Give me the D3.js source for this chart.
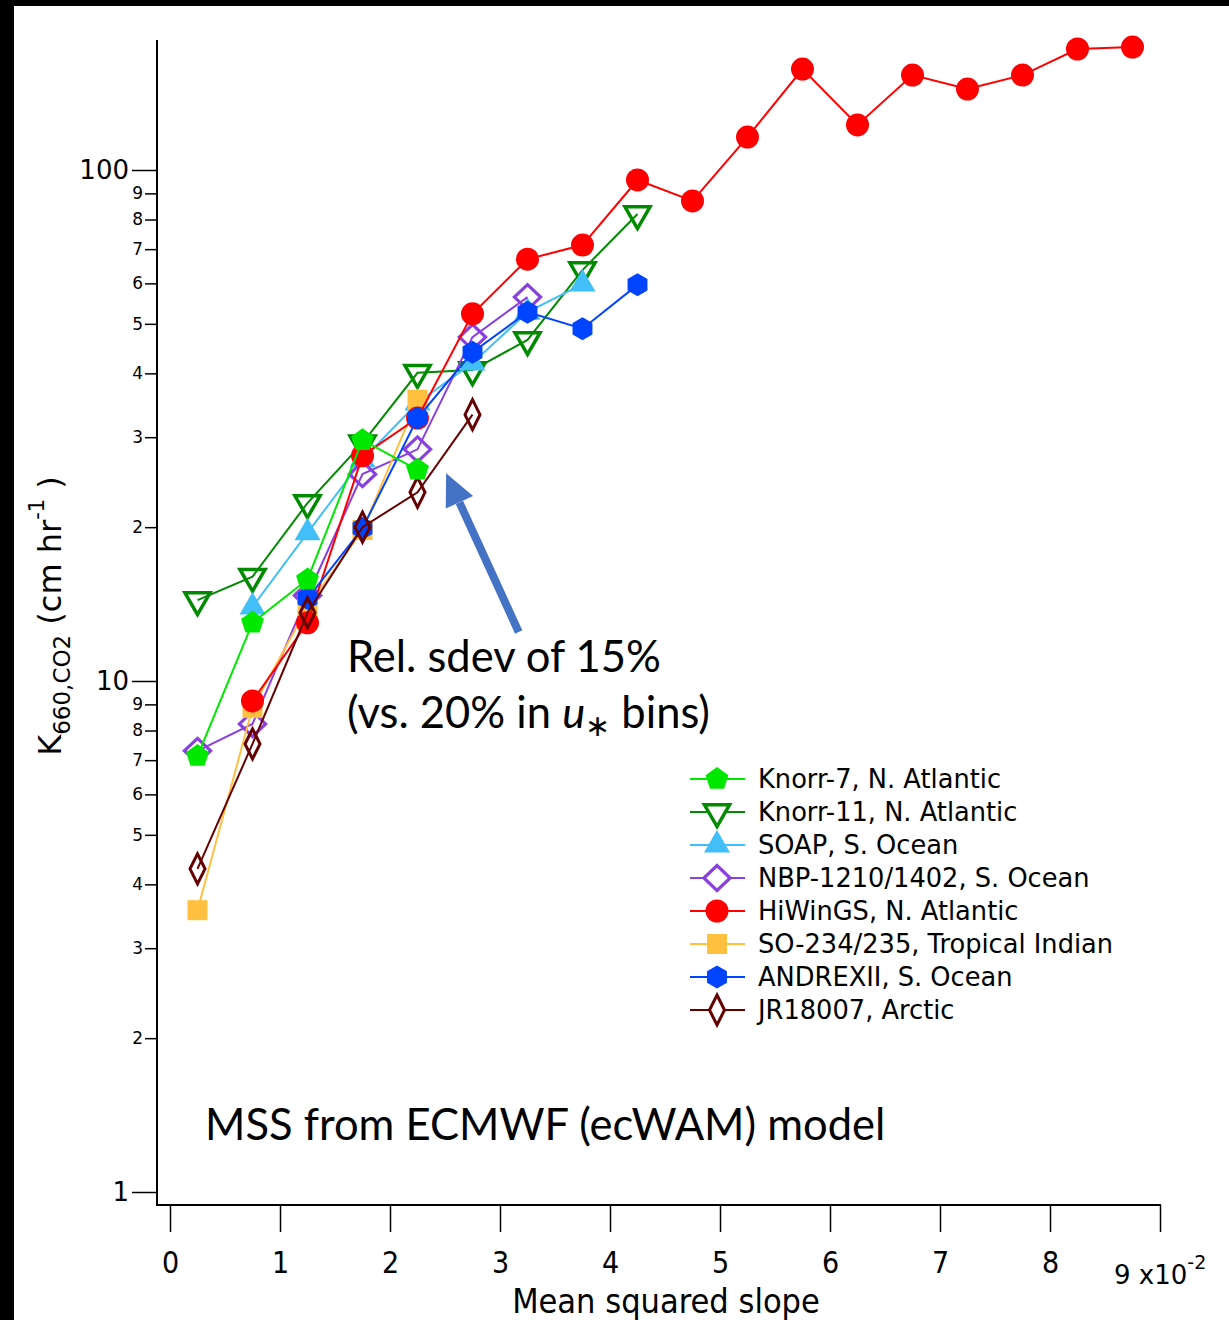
<!DOCTYPE html>
<html>
<head>
    <meta charset="utf-8">
    <title>K660 vs mean squared slope</title>
    <script src="https://cdn.jsdelivr.net/npm/d3@7"></script>
    <style>
        html, body {
            margin: 0;
            padding: 0;
            background-color: #fff;
        }
        svg {
            display: block;
            background-color: #fff;
        }
        .lucida {
            font-family: "DejaVu Sans", Verdana, sans-serif;
        }
        .narrow {
            font-family: "Liberation Sans Narrow", "DejaVu Sans Condensed", "Arial Narrow", sans-serif;
            font-stretch: condensed;
        }
        .calibri {
            font-family: Lato, "Open Sans", sans-serif;
        }
    </style>
</head>
<body>
<svg></svg>
<script>
    // bin centres of mean squared slope (x10^-2)
    var mssBins = [0.25, 0.75, 1.25, 1.75, 2.25, 2.75, 3.25, 3.75, 4.25,
                   4.75, 5.25, 5.75, 6.25, 6.75, 7.25, 7.75, 8.25, 8.75];

    // K660 (cm/hr) per bin, null = no data
    var knorr7   = [7.13, 13.0, 15.8, 29.6, 25.9];
    var knorr11  = [14.4, 16.0, 22.3, 29.2, 40.1, 40.6, 46.5, 63.7, 82.0];
    var soap     = [null, 13.96, 19.5, 27.1, 35.0, 41.9, 52.7, 59.8];
    var nbp      = [7.3, 8.24, 14.7, 25.4, 28.4, 47.1, 56.4];
    var hiwings  = [null, 9.14, 13.0, 27.6, 32.7, 52.3, 66.9, 71.3, 95.6,
                    87.0, 116, 157.6, 122.5, 153.4, 144, 153.4, 172.5, 174];
    var so234    = [3.56, 8.86, 13.96, 19.75, 35.5];
    var andrex   = [null, null, 14.5, 19.9, 32.7, 44.0, 52.7, 48.9, 59.6];
    var jr18007  = [4.29, 7.53, 13.6, 20.0, 23.4, 33.2];

    var seriesNames = ['Knorr-7, N. Atlantic', 'Knorr-11, N. Atlantic', 'SOAP, S. Ocean',
                       'NBP-1210/1402, S. Ocean', 'HiWinGS, N. Atlantic',
                       'SO-234/235, Tropical Indian', 'ANDREXII, S. Ocean', 'JR18007, Arctic'];

    var xTicks = [0, 1, 2, 3, 4, 5, 6, 7, 8];
    var yMajor = [1, 10, 100];

    (function () {
        var w = 1229,
            h = 1320;

        var svg = d3.select('svg')
                .attr('width', w)
                .attr('height', h)
                .attr('viewBox', '0 0 ' + w + ' ' + h);

        // page frame (black strips top / left)
        svg.append('rect').attr('x', 0).attr('y', 0).attr('width', w).attr('height', 6).style('fill', '#000');
        svg.append('rect').attr('x', 0).attr('y', 0).attr('width', 14).attr('height', h).style('fill', '#000');

        var x = d3.scaleLinear().domain([0, 9]).range([170, 1160]),
            y = d3.scaleLog().domain([1, 100]).range([1192, 170]);

        // --- custom marker shapes -----------------------------------
        function polygon(n, rot) {
            return {
                draw: function (ctx, size) {
                    var r = Math.sqrt(size) / 2;
                    for (var i = 0; i < n; i++) {
                        var a = rot + i * 2 * Math.PI / n;
                        var px = r * Math.sin(a), py = -r * Math.cos(a);
                        if (i === 0) ctx.moveTo(px, py); else ctx.lineTo(px, py);
                    }
                    ctx.closePath();
                }
            };
        }
        function rhomb(ratio) {
            return {
                draw: function (ctx, size) {
                    var r = Math.sqrt(size) / 2;
                    ctx.moveTo(0, -r);
                    ctx.lineTo(r * ratio, 0);
                    ctx.lineTo(0, r);
                    ctx.lineTo(-r * ratio, 0);
                    ctx.closePath();
                }
            };
        }
        var pentagon = polygon(5, 0),
            triDown = polygon(3, Math.PI),
            triUp = polygon(3, 0),
            hexagon = polygon(6, 0),
            square = {
                draw: function (ctx, size) {
                    var r = Math.sqrt(size) / 2;
                    ctx.rect(-r, -r, 2 * r, 2 * r);
                }
            },
            circle = {
                draw: function (ctx, size) {
                    var r = Math.sqrt(size) / 2;
                    ctx.moveTo(r, 0);
                    ctx.arc(0, 0, r, 0, 2 * Math.PI);
                }
            };

        // style per series, same order as seriesNames
        var styles = [
            { vals: knorr7,  color: '#00e800', shape: pentagon, d: 24, fill: true },
            { vals: knorr11, color: '#008a00', shape: triDown,  d: 29, fill: false, sw: 3.5 },
            { vals: soap,    color: '#42bff8', shape: triUp,    d: 30, fill: true },
            { vals: nbp,     color: '#8a40e0', shape: rhomb(1.05), d: 25, fill: false, sw: 3.2 },
            { vals: hiwings, color: '#ff0000', shape: circle,   d: 23, fill: true },
            { vals: so234,   color: '#ffc040', shape: square,   d: 20, fill: true },
            { vals: andrex,  color: '#0044ff', shape: hexagon,  d: 23, fill: true },
            { vals: jr18007, color: '#660000', shape: rhomb(0.5), d: 30, fill: false, sw: 3 }
        ];
        var drawOrder = [1, 2, 3, 5, 4, 6, 7, 0];

        var line = d3.line()
                .defined(function (d) { return d != null; })
                .x(function (d, i) { return x(mssBins[i]); })
                .y(function (d) { return y(d); });

        function marker(sel, s) {
            sel.attr('d', d3.symbol().type(s.shape).size(s.d * s.d))
                .style('fill', s.fill ? s.color : 'none')
                .style('stroke', s.fill ? 'none' : s.color)
                .style('stroke-width', s.sw || 0)
                .style('stroke-linejoin', 'miter');
        }

        var plot = svg.append('g');
        drawOrder.forEach(function (k) {
            var s = styles[k];
            var g = plot.append('g');
            g.append('path')
                .datum(s.vals)
                .attr('d', line)
                .style('fill', 'none')
                .style('stroke', s.color)
                .style('stroke-width', 2);
            g.selectAll('path.pt')
                .data(s.vals.map(function (v, i) { return { v: v, i: i }; })
                    .filter(function (d) { return d.v != null; }))
                .enter().append('path')
                .attr('class', 'pt')
                .attr('transform', function (d) {
                    return 'translate(' + x(mssBins[d.i]) + ',' + y(d.v) + ')';
                })
                .call(marker, s);
        });

        // --- axes -----------------------------------------------------
        var xAxis = d3.axisBottom(x)
                .tickValues(xTicks.concat([9]))
                .tickSize(27)
                .tickSizeOuter(0)
                .tickPadding(20)
                .tickFormat(function (d) { return d === 9 ? '' : d; });
        var gx = svg.append('g')
                .attr('transform', 'translate(0,1205)')
                .call(xAxis);
        gx.select('.domain').remove();
        gx.selectAll('line').style('stroke', '#000').style('stroke-width', 1.5);
        gx.selectAll('text')
            .attr('class', 'narrow')
            .style('font-size', '30px')
            .style('fill', '#000');

        var yMinor = [];
        [1, 10].forEach(function (dec) {
            for (var m = 2; m <= 9; m++) yMinor.push(dec * m);
        });

        var gyMajor = svg.append('g')
                .attr('transform', 'translate(157,0)')
                .call(d3.axisLeft(y).tickValues(yMajor).tickSize(25).tickSizeOuter(0)
                    .tickPadding(3).tickFormat(d3.format('d')));
        gyMajor.select('.domain').remove();
        gyMajor.selectAll('line').style('stroke', '#000').style('stroke-width', 1.5);
        gyMajor.selectAll('text').attr('class', 'lucida').style('font-size', '26px').style('fill', '#000');

        var gyMinor = svg.append('g')
                .attr('transform', 'translate(157,0)')
                .call(d3.axisLeft(y).tickValues(yMinor).tickSize(12).tickSizeOuter(0)
                    .tickPadding(2).tickFormat(function (d) {
                        return String(d).charAt(0);
                    }));
        gyMinor.select('.domain').remove();
        gyMinor.selectAll('line').style('stroke', '#000').style('stroke-width', 1.5);
        gyMinor.selectAll('text').attr('class', 'lucida').style('font-size', '17px').style('fill', '#000');

        // axis lines
        svg.append('line')
            .attr('x1', 157).attr('x2', 157).attr('y1', 40).attr('y2', 1206)
            .style('stroke', '#000').style('stroke-width', 2);
        svg.append('line')
            .attr('x1', 156).attr('x2', 1161).attr('y1', 1205).attr('y2', 1205)
            .style('stroke', '#000').style('stroke-width', 2);

        // x axis end label "9 x10^-2"
        var nine = svg.append('text')
                .attr('class', 'lucida')
                .attr('x', 1114).attr('y', 1284)
                .style('font-size', '26px');
        nine.append('tspan').text('9 x10');
        nine.append('tspan').attr('dy', -15).style('font-size', '19px').text('-2');

        // axis titles
        svg.append('text')
            .attr('class', 'narrow')
            .attr('x', 666).attr('y', 1313)
            .attr('text-anchor', 'middle')
            .style('font-size', '34px')
            .text('Mean squared slope');

        var yl = svg.append('text')
                .attr('class', 'lucida')
                .attr('transform', 'translate(61,616)rotate(-90)')
                .attr('text-anchor', 'middle')
                .style('font-size', '32px');
        yl.append('tspan').text('K');
        yl.append('tspan').attr('dy', 9).style('font-size', '23px').text('660,CO2');
        yl.append('tspan').attr('dy', -9).text(' (cm hr');
        yl.append('tspan').attr('dy', -17).style('font-size', '21px').text('-1');
        yl.append('tspan').attr('dy', 17).text(' )');

        // --- annotation -----------------------------------------------
        var tail = [x(3.17), y(12.47)],
            tip = [x(2.51), y(25.5)];
        var ang = Math.atan2(tip[1] - tail[1], tip[0] - tail[0]),
            headLen = 32, headW = 15;
        var base = [tip[0] - headLen * Math.cos(ang), tip[1] - headLen * Math.sin(ang)];
        svg.append('line')
            .attr('x1', tail[0]).attr('y1', tail[1])
            .attr('x2', base[0]).attr('y2', base[1])
            .style('stroke', '#4472c4').style('stroke-width', 8);
        svg.append('path')
            .attr('d', d3.line()([
                tip,
                [base[0] + headW * Math.sin(ang), base[1] - headW * Math.cos(ang)],
                [base[0] - headW * Math.sin(ang), base[1] + headW * Math.cos(ang)]
            ]) + 'Z')
            .style('fill', '#4472c4');

        svg.append('text')
            .attr('class', 'calibri')
            .attr('x', 347).attr('y', 672)
            .style('font-size', '43.5px')
            .text('Rel. sdev of 15%');
        var t2 = svg.append('text')
                .attr('class', 'calibri')
                .attr('x', 347).attr('y', 728)
                .style('font-size', '43.5px');
        t2.append('tspan').text('(vs. 20% in ');
        t2.append('tspan').style('font-style', 'italic').text('u');
        t2.append('tspan').attr('dy', 8).style('font-size', '30px').text('\u2217');
        t2.append('tspan').attr('dy', -8).text(' bins)');

        svg.append('text')
            .attr('class', 'calibri')
            .attr('x', 205).attr('y', 1140)
            .style('font-size', '43.5px')
            .text('MSS from ECMWF (ecWAM) model');

        // --- legend ---------------------------------------------------
        var legend = svg.append('g').attr('transform', 'translate(690,779)');
        var rows = legend.selectAll('g')
                .data(seriesNames)
                .enter().append('g')
                .attr('transform', function (d, i) { return 'translate(0,' + (i * 33) + ')'; });
        rows.append('line')
            .attr('x1', 0).attr('x2', 55)
            .style('stroke', function (d, i) { return styles[i].color; })
            .style('stroke-width', 2);
        rows.append('path')
            .attr('transform', 'translate(27,0)')
            .each(function (d, i) {
                var s = styles[i];
                d3.select(this).call(marker, s)
                    .style('fill', s.fill ? s.color : '#fff');
            });
        rows.append('text')
            .attr('class', 'lucida')
            .attr('x', 68).attr('y', 9)
            .style('font-size', '25.7px')
            .text(function (d) { return d; });
    })();
</script>
</body>
</html>
